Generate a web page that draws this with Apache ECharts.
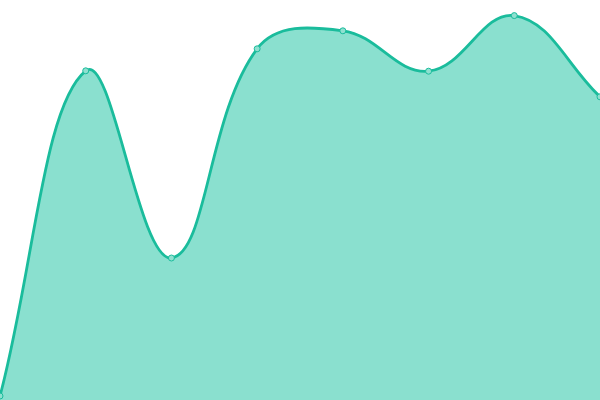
<!DOCTYPE html>
<html>
<head>
<meta charset="utf-8">
<script src="https://cdn.jsdelivr.net/npm/echarts@6/dist/echarts.min.js"></script>
<style>
  html, body { margin: 0; padding: 0; background: #fff; }
  #chart { width: 600px; height: 400px; }
</style>
</head>
<body>
<div id="chart"></div>
<script>
const categories = ['1', '2', '3', '4', '5', '6', '7', '8']
const values = [1, 82.3, 35.5, 87.8, 92.3, 82.2, 96.1, 75.8]

const TENSION = 0.4
const LINE_COLOR = '#1abc9c'

// spline with the same control points a tension based curve uses (ends pull straight)
function splinePath(pts, area) {
  const cps = pts.map((cur, i) => {
    const prev = pts[i - 1] || cur
    const next = pts[i + 1] || cur
    const d01 = Math.hypot(cur[0] - prev[0], cur[1] - prev[1])
    const d12 = Math.hypot(next[0] - cur[0], next[1] - cur[1])
    let s01 = d01 / (d01 + d12)
    let s12 = d12 / (d01 + d12)
    if (isNaN(s01)) s01 = 0
    if (isNaN(s12)) s12 = 0
    const fa = TENSION * s01
    const fb = TENSION * s12
    const vx = next[0] - prev[0]
    const vy = next[1] - prev[1]
    return {
      prev: [cur[0] - fa * vx, cur[1] - fa * vy],
      next: [cur[0] + fb * vx, cur[1] + fb * vy],
    }
  })
  let d = 'M' + pts[0][0] + ' ' + pts[0][1]
  for (let i = 1; i < pts.length; i++) {
    const a = cps[i - 1].next
    const b = cps[i].prev
    d += ' C' + a[0] + ' ' + a[1] + ' ' + b[0] + ' ' + b[1] + ' ' + pts[i][0] + ' ' + pts[i][1]
  }
  if (area) {
    d += ' L' + pts[pts.length - 1][0] + ' ' + area + ' L' + pts[0][0] + ' ' + area + ' Z'
  }
  return d
}

function renderCurve(params, api) {
  if (params.dataIndex !== 0) return
  const pts = values.map((v, i) => api.coord([i, v]))
  const base = api.coord([0, 0])[1]
  return {
    type: 'group',
    children: [
      {
        type: 'path',
        shape: { pathData: splinePath(pts, base) },
        style: { fill: '#8ae0cf', stroke: null },
      },
      {
        type: 'path',
        shape: { pathData: splinePath(pts) },
        style: { fill: null, stroke: LINE_COLOR, lineWidth: 2.8 },
      },
    ],
  }
}

const chart = echarts.init(document.getElementById('chart'))
chart.setOption({
  animation: false,
  grid: { left: 0, right: 0, top: 0, bottom: 0 },
  xAxis: {
    type: 'category',
    data: categories,
    boundaryGap: false,
    show: false,
  },
  yAxis: {
    type: 'value',
    min: 0,
    max: 100,
    show: false,
  },
  series: [
    {
      type: 'custom',
      renderItem: renderCurve,
      data: [[0, values[0]]],
      silent: true,
      z: 2,
    },
    {
      type: 'scatter',
      data: values,
      symbol: 'circle',
      symbolSize: 6,
      itemStyle: { color: '#8fe0d0', borderColor: LINE_COLOR, borderWidth: 1, opacity: 1 },
      z: 3,
    },
  ],
})
</script>
</body>
</html>
